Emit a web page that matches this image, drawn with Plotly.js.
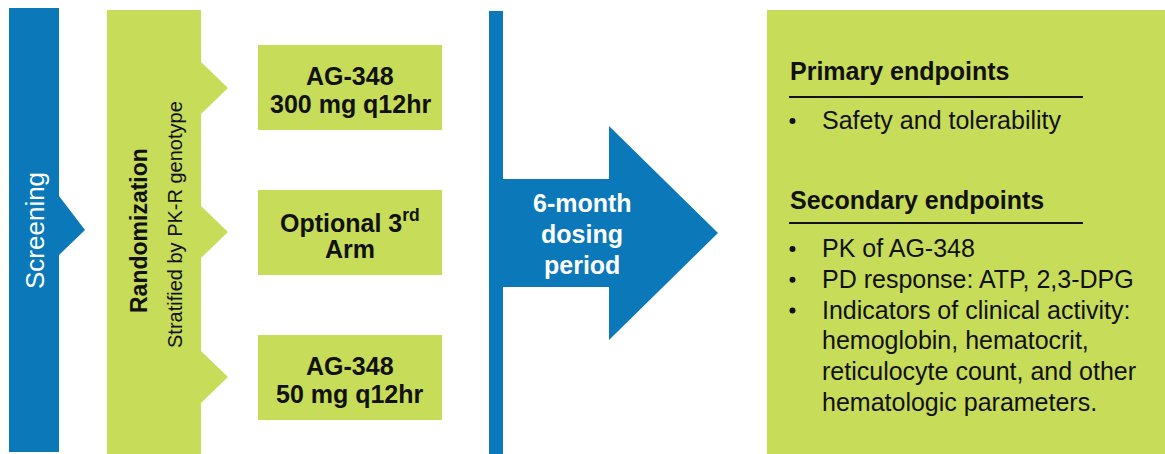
<!DOCTYPE html>
<html>
<head>
<meta charset="utf-8">
<script src="https://cdn.plot.ly/plotly-3.0.1.min.js"></script>
<style>html,body{margin:0;padding:0;background:#fff;}#chart{width:1165px;height:454px;}</style>
</head>
<body>
<div id="chart"></div>
<script>
// ---- content ----
const stageLabels = ["Screening", "Randomization", "Stratified by PK-R genotype"];
const dosingLines = ["6-month", "dosing", "period"];
const armLabels = [["AG-348", "300 mg q12hr"], ["Optional 3<sup>rd</sup>", "Arm"], ["AG-348", "50 mg q12hr"]];
const endpointHeaders = ["Primary endpoints", "Secondary endpoints"];
const primaryItems = ["Safety and tolerability"];
const secondaryItems = [
  ["PK of AG-348"],
  ["PD response: ATP, 2,3-DPG"],
  ["Indicators of clinical activity:", "hemoglobin, hematocrit,", "reticulocyte count, and other", "hematologic parameters."]
];

// ---- styling / layout ----
const BLUE = "#0a78b9";
const GREEN = "#c7dc59";
const INK = "#111111";
const FONT = "Liberation Sans, Arial, sans-serif";

const shapes = [];
const annotations = [];

function path(d, color) {
  shapes.push({type: "path", xref: "x", yref: "y", path: d, fillcolor: color, line: {width: 0}, layer: "below"});
}
function rect(x0, y0, x1, y1, color) {
  shapes.push({type: "rect", xref: "x", yref: "y", x0, y0, x1, y1, fillcolor: color, line: {width: 0}, layer: "below"});
}
function line(x0, y0, x1, y1, w) {
  shapes.push({type: "line", xref: "x", yref: "y", x0, y0, x1, y1, line: {color: INK, width: w}});
}
function text(t, x, y, size, color, opts) {
  annotations.push(Object.assign({
    text: t, x, y, xref: "x", yref: "y", showarrow: false,
    font: {family: FONT, size: size, color: color}
  }, opts || {}));
}
function bullet(y) {
  shapes.push({type: "circle", xref: "x", yref: "y", x0: 789.5, x1: 795.5, y0: y - 3, y1: y + 3,
               fillcolor: INK, line: {width: 0}});
}

// Screening bar
path("M9,8 L59,8 L59,196 L85,230 L59,255 L59,452 L9,452 Z", BLUE);
text(stageLabels[0], 35, 231, 26, "#ffffff", {textangle: -90});

// Randomization bar
const armTips = [88, 232, 377];
let rp = "M107,10 L201,10";
armTips.forEach(t => { rp += ` L201,${t-26} L228,${t} L201,${t+26}`; });
rp += " L201,454 L107,454 Z";
path(rp, GREEN);
text("<b>" + stageLabels[1] + "</b>", 139, 231, 23, INK, {textangle: -90});
text(stageLabels[2], 175, 225, 20, INK, {textangle: -90});

// Arm boxes
const armBoxes = [[45, 130], [190, 275], [335, 420]];
armBoxes.forEach((b, i) => {
  rect(258, b[0], 442, b[1], GREEN);
  const c = (b[0] + b[1]) / 2;
  text("<b>" + armLabels[i][0] + "</b>", 350, c - 12, 25, INK);
  text("<b>" + armLabels[i][1] + "</b>", 350, c + 16, 25, INK);
});

// Dosing line + arrow
rect(489, 11, 503, 454, BLUE);
path("M503,179 L609,179 L609,126 L718,233 L609,340 L609,287 L503,287 Z", BLUE);
dosingLines.forEach((l, i) => {
  text("<b>" + l + "</b>", 582, 203 + i * 31, 25, "#ffffff");
});

// Endpoints panel
rect(767, 10, 1165, 454, GREEN);
text("<b>" + endpointHeaders[0] + "</b>", 788, 71, 25, INK, {xanchor: "left"});
line(789, 97, 1083, 97, 2.2);
bullet(121);
text(primaryItems[0], 820, 120, 25, INK, {xanchor: "left"});

text("<b>" + endpointHeaders[1] + "</b>", 788, 200, 25, INK, {xanchor: "left"});
line(789, 223, 1083, 223, 2.2);
let yy = 248;
secondaryItems.forEach(item => {
  bullet(yy + 1);
  item.forEach(l => { text(l, 820, yy, 25, INK, {xanchor: "left"}); yy += 30.8; });
});

const layout = {
  width: 1165, height: 454,
  margin: {l: 0, r: 0, t: 0, b: 0, pad: 0},
  paper_bgcolor: "#ffffff", plot_bgcolor: "#ffffff",
  xaxis: {range: [0, 1165], visible: false, fixedrange: true},
  yaxis: {range: [454, 0], visible: false, fixedrange: true},
  showlegend: false,
  shapes, annotations
};
Plotly.newPlot("chart", [], layout, {staticPlot: true, displayModeBar: false});
</script>
</body>
</html>
